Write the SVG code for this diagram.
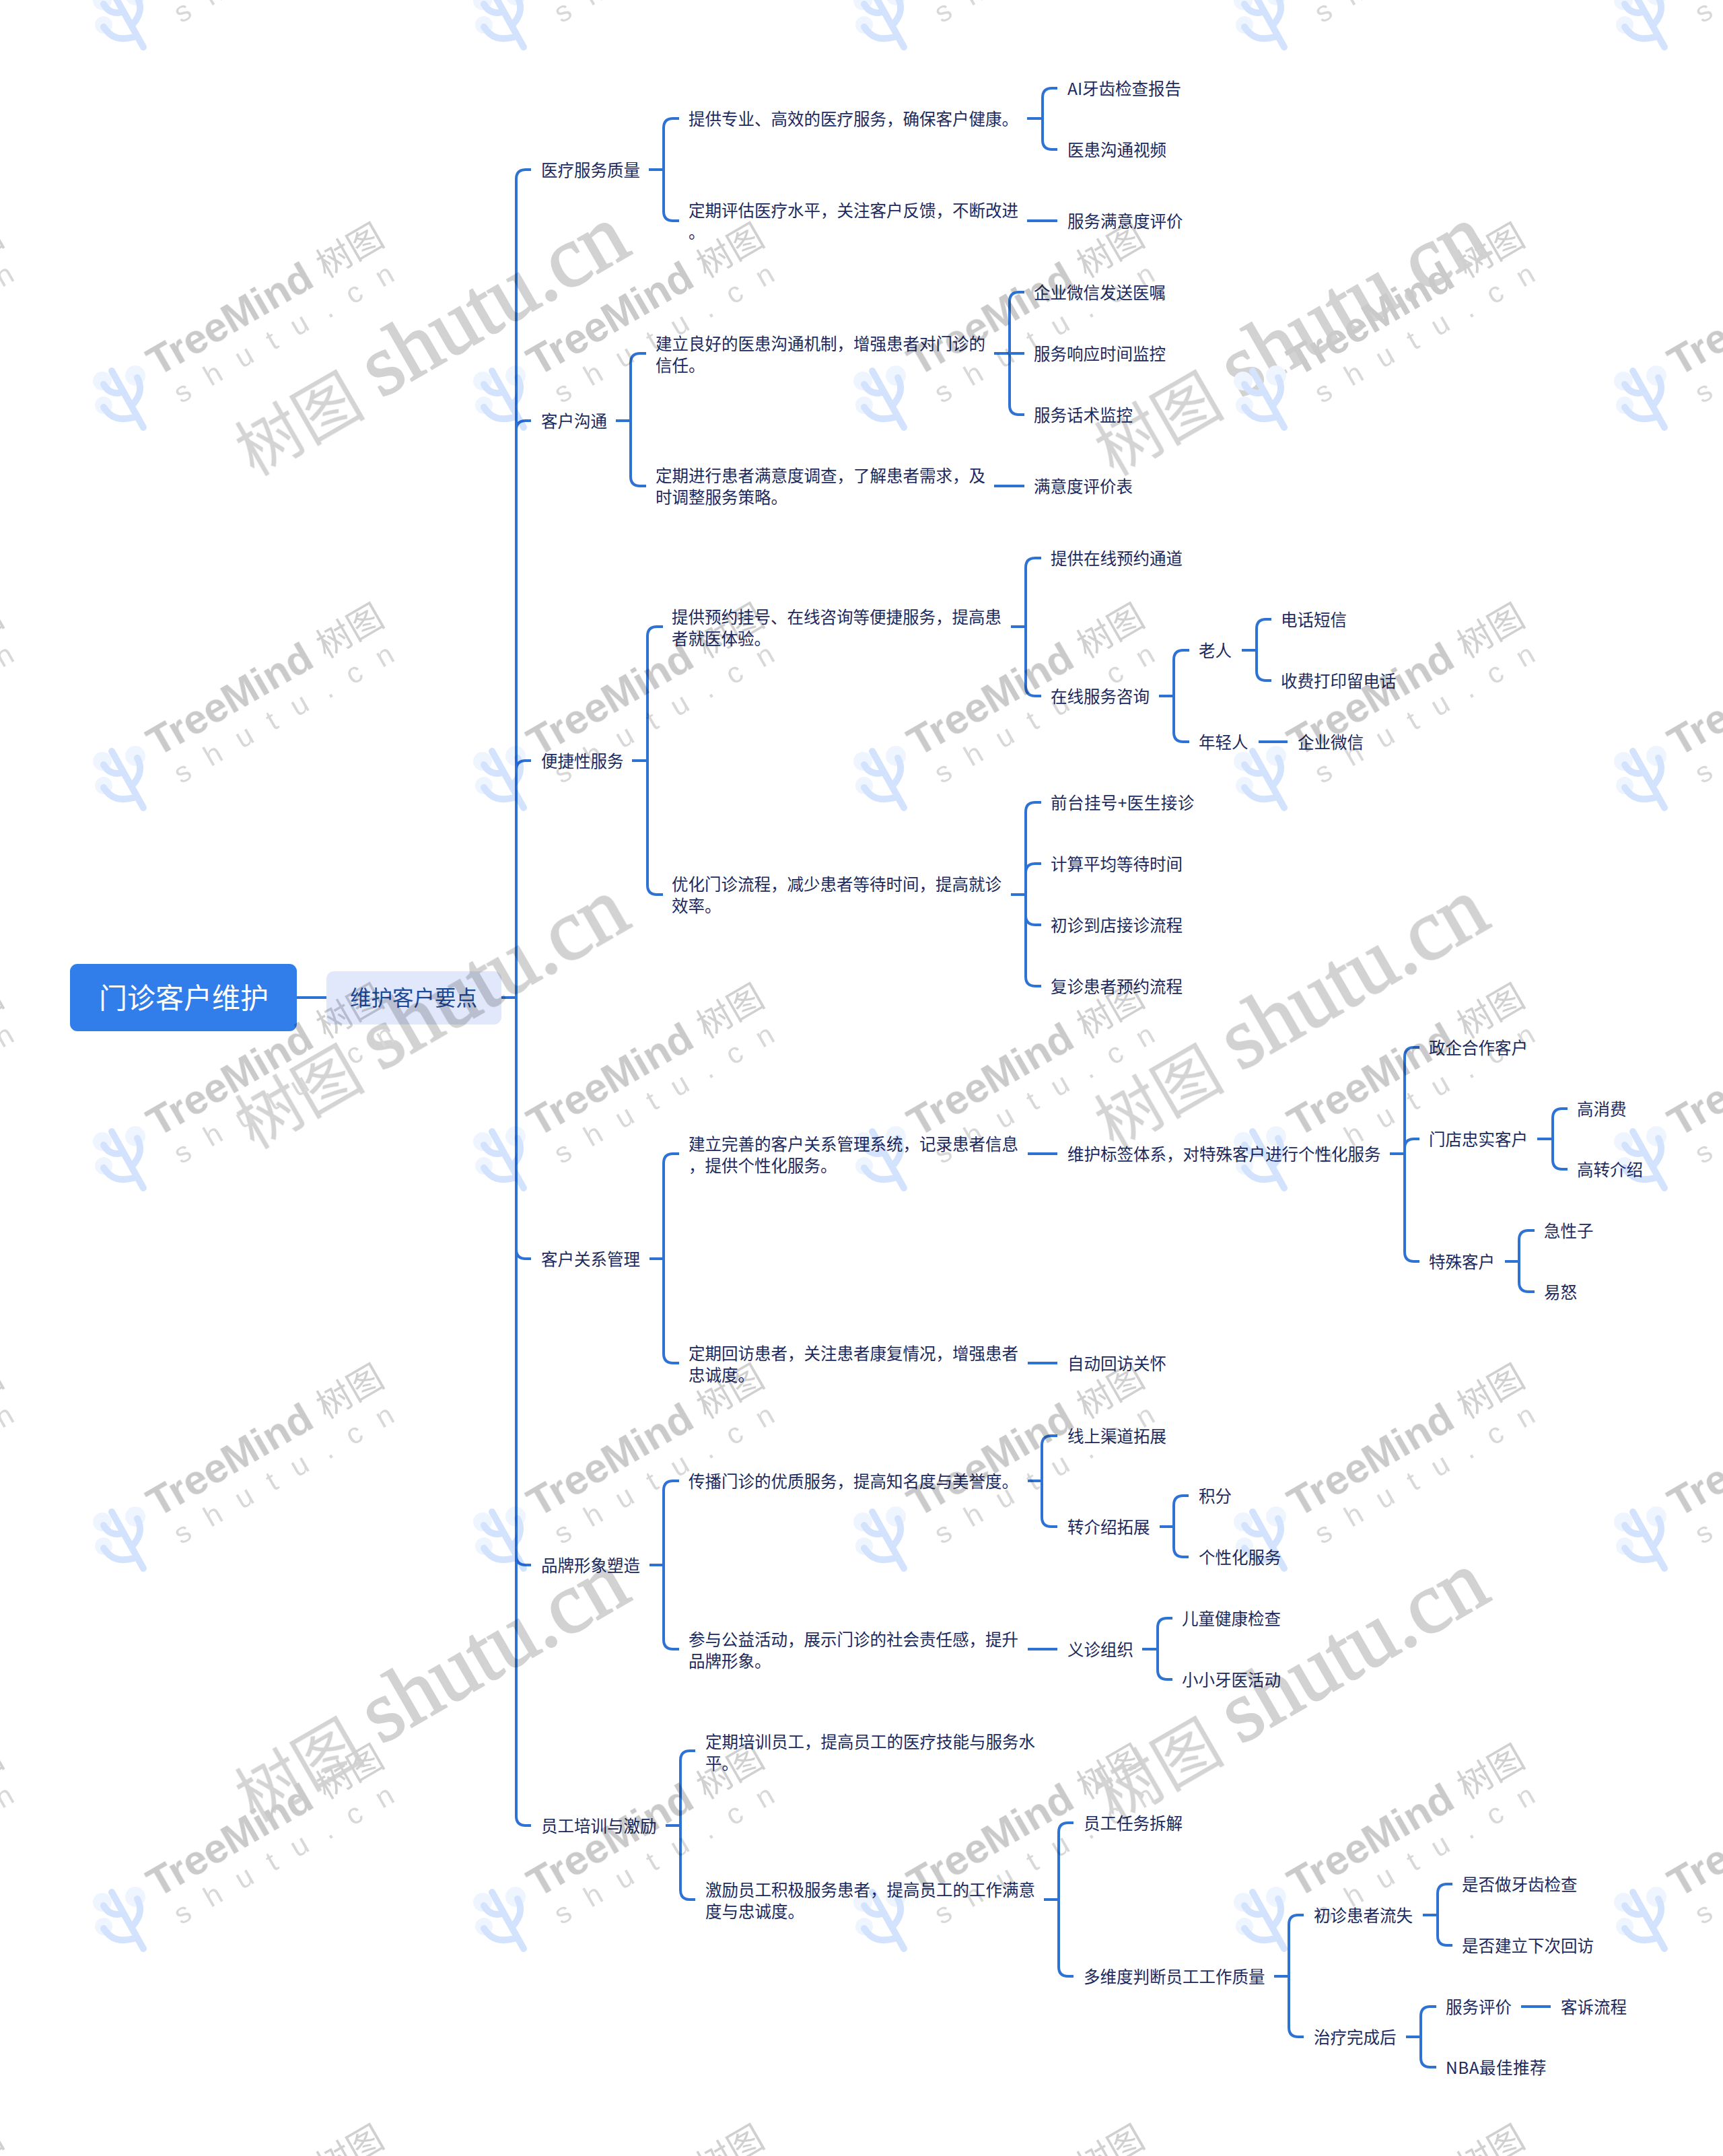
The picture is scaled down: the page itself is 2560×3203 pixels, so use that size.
<svg xmlns="http://www.w3.org/2000/svg" width="2560" height="3203" viewBox="0 0 2560 3203">
<style>
text{font-family:"Noto Sans CJK SC","Noto Sans",sans-serif}
.t{font-size:24.5px;fill:#1b2a5f}
#conn path{fill:none;stroke:#2e73d4;stroke-width:4}
#watermark{mix-blend-mode:multiply}
.wt{font-family:"Liberation Sans",sans-serif;font-weight:700;font-size:62px;fill:#cacaca}
.wc{font-size:52px;fill:#d0d0d0}
.ws{font-family:"Liberation Sans",sans-serif;font-size:43px;letter-spacing:29.5px;fill:#d8d8d8}
.wb{font-family:"Liberation Serif",serif;font-size:129px;fill:#d2d2d2;stroke:#d2d2d2;stroke-width:2.5}
.wbc{font-size:97px;fill:#d4d4d4}
.lg{fill:none;stroke:#d3e3fd;stroke-width:10;stroke-linecap:round;stroke-linejoin:round}
.hl{fill:#eff5ff}
</style>
<defs>
<g id="tile">
<circle class="hl" cx="152" cy="566" r="14"/><circle class="hl" cx="201" cy="558" r="15"/><circle class="hl" cx="154" cy="602" r="13"/>
<path class="lg" d="M166 551L213 635M154 571C160 582 170 586 180 583M204 561C212 576 208 588 198 600M154 605C165 622 178 625 199 620"/>
<text class="wt" transform="translate(234 560) rotate(-30)">TreeMind</text>
<text class="wc" transform="translate(484 414) rotate(-30)">树图</text>
<text class="ws" transform="translate(269 600) rotate(-30)">shutu.cn</text>
</g>
<g id="big"><text class="wbc" transform="translate(377 708) rotate(-30)">树图</text><text class="wb" transform="translate(566 592) rotate(-30)">shutu.cn</text></g>
</defs>
<rect width="2560" height="3203" fill="#fff"/>
<g id="conn">
<path d="M441 1482H485"/>
<path d="M745 1482H767M767 1482V266Q767 252 781 252H789M767 1482V639Q767 625 781 625H789M767 1482V1144Q767 1130 781 1130H789M767 1482V1856Q767 1870 781 1870H789M767 1482V2311Q767 2325 781 2325H789M767 1482V2698Q767 2712 781 2712H789"/>
<path d="M964 252H986M986 252V190Q986 176 1000 176H1009M986 252V314Q986 328 1000 328H1009"/>
<path d="M1526 176H1549M1549 176V145Q1549 131 1563 131H1571M1549 176V208Q1549 222 1563 222H1571"/>
<path d="M1526 328H1571"/>
<path d="M915 625H937M937 625V539Q937 525 951 525H960M937 625V708Q937 722 951 722H960"/>
<path d="M1477 525H1522M1500 525V448Q1500 434 1514 434H1522M1500 525V602Q1500 616 1514 616H1522"/>
<path d="M1477 722H1522"/>
<path d="M939 1130H962M962 1130V945Q962 931 976 931H985M962 1130V1315Q962 1329 976 1329H985"/>
<path d="M1502 931H1524M1524 931V843Q1524 829 1538 829H1547M1524 931V1020Q1524 1034 1538 1034H1547"/>
<path d="M1722 1034H1744M1744 1034V980Q1744 966 1758 966H1767M1744 1034V1088Q1744 1102 1758 1102H1767"/>
<path d="M1845 966H1867M1867 966V934Q1867 920 1881 920H1889M1867 966V997Q1867 1011 1881 1011H1889"/>
<path d="M1870 1102H1913"/>
<path d="M1502 1329H1524M1524 1329V1206Q1524 1192 1538 1192H1547M1524 1329V1297Q1524 1283 1538 1283H1547M1524 1329V1360Q1524 1374 1538 1374H1547M1524 1329V1451Q1524 1465 1538 1465H1547"/>
<path d="M965 1870H986M986 1870V1728Q986 1714 1000 1714H1009M986 1870V2011Q986 2025 1000 2025H1009"/>
<path d="M1527 1714H1571"/>
<path d="M2065 1714H2087M2087 1714V1570Q2087 1556 2101 1556H2109M2087 1714V1706Q2087 1692 2101 1692H2109M2087 1714V1860Q2087 1874 2101 1874H2109"/>
<path d="M2284 1692H2307M2307 1692V1661Q2307 1647 2321 1647H2329M2307 1692V1723Q2307 1737 2321 1737H2329"/>
<path d="M2236 1874H2257M2257 1874V1842Q2257 1828 2271 1828H2280M2257 1874V1905Q2257 1919 2271 1919H2280"/>
<path d="M1527 2025H1571"/>
<path d="M965 2325H986M986 2325V2214Q986 2200 1000 2200H1009M986 2325V2436Q986 2450 1000 2450H1009"/>
<path d="M1527 2200H1548M1548 2200V2147Q1548 2133 1562 2133H1571M1548 2200V2254Q1548 2268 1562 2268H1571"/>
<path d="M1723 2268H1744M1744 2268V2236Q1744 2222 1758 2222H1766M1744 2268V2299Q1744 2313 1758 2313H1766"/>
<path d="M1527 2450H1571"/>
<path d="M1697 2450H1720M1720 2450V2418Q1720 2404 1734 2404H1742M1720 2450V2481Q1720 2495 1734 2495H1742"/>
<path d="M989 2712H1011M1011 2712V2615Q1011 2601 1025 2601H1033M1011 2712V2808Q1011 2822 1025 2822H1033"/>
<path d="M1551 2822H1573M1573 2822V2722Q1573 2708 1587 2708H1595M1573 2822V2922Q1573 2936 1587 2936H1595"/>
<path d="M1893 2936H1915M1915 2936V2859Q1915 2845 1929 2845H1937M1915 2936V3012Q1915 3026 1929 3026H1937"/>
<path d="M2114 2845H2136M2136 2845V2813Q2136 2799 2150 2799H2158M2136 2845V2876Q2136 2890 2150 2890H2158"/>
<path d="M2089 3026H2111M2111 3026V2995Q2111 2981 2125 2981H2134M2111 3026V3057Q2111 3071 2125 3071H2134"/>
<path d="M2260 2981H2304"/>
</g>
<g id="root"><rect x="104" y="1432" width="337" height="100" rx="11" fill="#317eeb"/><text x="147" y="1498" font-size="42" fill="#fff">门诊客户维护</text></g>
<g id="n0"><rect x="485" y="1443" width="260" height="79" rx="11" fill="#e1e8fb"/><text x="520" y="1494" font-size="31.5" fill="#1c4a9c">维护客户要点</text></g>
<g id="nodes" transform="translate(0 .5)">
<g id="n1"><text class="t" x="804" y="261">医疗服务质量</text></g>
<g id="n2"><text class="t" x="1023" y="185">提供专业、高效的医疗服务，确保客户健康。</text></g>
<g id="n3"><text class="t" x="1586" y="140">AI牙齿检查报告</text></g>
<g id="n4"><text class="t" x="1586" y="231">医患沟通视频</text></g>
<g id="n5"><text class="t" x="1023" y="321">定期评估医疗水平，关注客户反馈，不断改进<tspan x="1023" dy="32">。</tspan></text></g>
<g id="n6"><text class="t" x="1586" y="337">服务满意度评价</text></g>
<g id="n7"><text class="t" x="804" y="634">客户沟通</text></g>
<g id="n8"><text class="t" x="974" y="519">建立良好的医患沟通机制，增强患者对门诊的<tspan x="974" dy="32">信任。</tspan></text></g>
<g id="n9"><text class="t" x="1536" y="443">企业微信发送医嘱</text></g>
<g id="n10"><text class="t" x="1536" y="534">服务响应时间监控</text></g>
<g id="n11"><text class="t" x="1536" y="625">服务话术监控</text></g>
<g id="n12"><text class="t" x="974" y="715">定期进行患者满意度调查，了解患者需求，及<tspan x="974" dy="32">时调整服务策略。</tspan></text></g>
<g id="n13"><text class="t" x="1536" y="731">满意度评价表</text></g>
<g id="n14"><text class="t" x="804" y="1139">便捷性服务</text></g>
<g id="n15"><text class="t" x="998" y="925">提供预约挂号、在线咨询等便捷服务，提高患<tspan x="998" dy="32">者就医体验。</tspan></text></g>
<g id="n16"><text class="t" x="1561" y="838">提供在线预约通道</text></g>
<g id="n17"><text class="t" x="1561" y="1043">在线服务咨询</text></g>
<g id="n18"><text class="t" x="1781" y="975">老人</text></g>
<g id="n19"><text class="t" x="1903" y="929">电话短信</text></g>
<g id="n20"><text class="t" x="1903" y="1020">收费打印留电话</text></g>
<g id="n21"><text class="t" x="1781" y="1111">年轻人</text></g>
<g id="n22"><text class="t" x="1928" y="1111">企业微信</text></g>
<g id="n23"><text class="t" x="998" y="1322">优化门诊流程，减少患者等待时间，提高就诊<tspan x="998" dy="32">效率。</tspan></text></g>
<g id="n24"><text class="t" x="1561" y="1201" letter-spacing=".45">前台挂号+医生接诊</text></g>
<g id="n25"><text class="t" x="1561" y="1292">计算平均等待时间</text></g>
<g id="n26"><text class="t" x="1561" y="1383">初诊到店接诊流程</text></g>
<g id="n27"><text class="t" x="1561" y="1474">复诊患者预约流程</text></g>
<g id="n28"><text class="t" x="804" y="1879">客户关系管理</text></g>
<g id="n29"><text class="t" x="1023" y="1708">建立完善的客户关系管理系统，记录患者信息<tspan x="1023" dy="32">，提供个性化服务。</tspan></text></g>
<g id="n30"><text class="t" x="1586" y="1723">维护标签体系，对特殊客户进行个性化服务</text></g>
<g id="n31"><text class="t" x="2123" y="1565">政企合作客户</text></g>
<g id="n32"><text class="t" x="2123" y="1701">门店忠实客户</text></g>
<g id="n33"><text class="t" x="2343" y="1656">高消费</text></g>
<g id="n34"><text class="t" x="2343" y="1746">高转介绍</text></g>
<g id="n35"><text class="t" x="2123" y="1883">特殊客户</text></g>
<g id="n36"><text class="t" x="2294" y="1837">急性子</text></g>
<g id="n37"><text class="t" x="2294" y="1928">易怒</text></g>
<g id="n38"><text class="t" x="1023" y="2019">定期回访患者，关注患者康复情况，增强患者<tspan x="1023" dy="32">忠诚度。</tspan></text></g>
<g id="n39"><text class="t" x="1586" y="2034">自动回访关怀</text></g>
<g id="n40"><text class="t" x="804" y="2334">品牌形象塑造</text></g>
<g id="n41"><text class="t" x="1023" y="2209">传播门诊的优质服务，提高知名度与美誉度。</text></g>
<g id="n42"><text class="t" x="1586" y="2142">线上渠道拓展</text></g>
<g id="n43"><text class="t" x="1586" y="2277">转介绍拓展</text></g>
<g id="n44"><text class="t" x="1781" y="2231">积分</text></g>
<g id="n45"><text class="t" x="1781" y="2322">个性化服务</text></g>
<g id="n46"><text class="t" x="1023" y="2444">参与公益活动，展示门诊的社会责任感，提升<tspan x="1023" dy="32">品牌形象。</tspan></text></g>
<g id="n47"><text class="t" x="1586" y="2459">义诊组织</text></g>
<g id="n48"><text class="t" x="1756" y="2413">儿童健康检查</text></g>
<g id="n49"><text class="t" x="1756" y="2504">小小牙医活动</text></g>
<g id="n50"><text class="t" x="804" y="2721">员工培训与激励</text></g>
<g id="n51"><text class="t" x="1048" y="2596">定期培训员工，提高员工的医疗技能与服务水<tspan x="1048" dy="32">平。</tspan></text></g>
<g id="n52"><text class="t" x="1048" y="2816">激励员工积极服务患者，提高员工的工作满意<tspan x="1048" dy="32">度与忠诚度。</tspan></text></g>
<g id="n53"><text class="t" x="1610" y="2717">员工任务拆解</text></g>
<g id="n54"><text class="t" x="1610" y="2945">多维度判断员工工作质量</text></g>
<g id="n55"><text class="t" x="1952" y="2854">初诊患者流失</text></g>
<g id="n56"><text class="t" x="2172" y="2808">是否做牙齿检查</text></g>
<g id="n57"><text class="t" x="2172" y="2899">是否建立下次回访</text></g>
<g id="n58"><text class="t" x="1952" y="3035">治疗完成后</text></g>
<g id="n59"><text class="t" x="2148" y="2990">服务评价</text></g>
<g id="n60"><text class="t" x="2319" y="2990">客诉流程</text></g>
<g id="n61"><text class="t" x="2148" y="3080" letter-spacing=".45">NBA最佳推荐</text></g>
</g>
<g id="watermark">
<use href="#big"/><use href="#big" x="1277"/><use href="#big" y="1000"/><use href="#big" x="1277" y="1000"/><use href="#big" y="2000"/><use href="#big" x="1277" y="2000"/>
<g id="r0"><use href="#tile" x="-565" y="-565"/><use href="#tile" y="-565"/><use href="#tile" x="565" y="-565"/><use href="#tile" x="1130" y="-565"/><use href="#tile" x="1695" y="-565"/><use href="#tile" x="2260" y="-565"/></g>
<g id="r1"><use href="#tile" x="-565"/><use href="#tile"/><use href="#tile" x="565"/><use href="#tile" x="1130"/><use href="#tile" x="1695"/><use href="#tile" x="2260"/></g>
<g id="r2"><use href="#tile" x="-565" y="565"/><use href="#tile" y="565"/><use href="#tile" x="565" y="565"/><use href="#tile" x="1130" y="565"/><use href="#tile" x="1695" y="565"/><use href="#tile" x="2260" y="565"/></g>
<g id="r3"><use href="#tile" x="-565" y="1130"/><use href="#tile" y="1130"/><use href="#tile" x="565" y="1130"/><use href="#tile" x="1130" y="1130"/><use href="#tile" x="1695" y="1130"/><use href="#tile" x="2260" y="1130"/></g>
<g id="r4"><use href="#tile" x="-565" y="1695"/><use href="#tile" y="1695"/><use href="#tile" x="565" y="1695"/><use href="#tile" x="1130" y="1695"/><use href="#tile" x="1695" y="1695"/><use href="#tile" x="2260" y="1695"/></g>
<g id="r5"><use href="#tile" x="-565" y="2260"/><use href="#tile" y="2260"/><use href="#tile" x="565" y="2260"/><use href="#tile" x="1130" y="2260"/><use href="#tile" x="1695" y="2260"/><use href="#tile" x="2260" y="2260"/></g>
<g id="r6"><use href="#tile" x="-565" y="2825"/><use href="#tile" y="2825"/><use href="#tile" x="565" y="2825"/><use href="#tile" x="1130" y="2825"/><use href="#tile" x="1695" y="2825"/><use href="#tile" x="2260" y="2825"/></g>
</g>
</svg>
